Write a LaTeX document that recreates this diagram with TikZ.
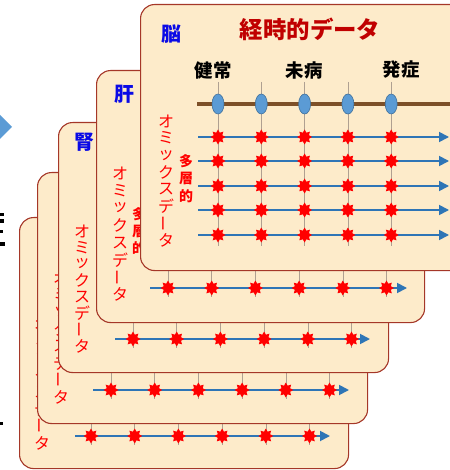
\documentclass[tikz,border=0pt]{standalone}
\usepackage{fontspec}
\newfontfamily\jp{Noto Sans CJK JP}
\usetikzlibrary{arrows.meta,shapes.geometric}
\definecolor{cardfill}{RGB}{253,235,202}
\definecolor{cardedge}{RGB}{165,55,40}
\definecolor{arrowblue}{RGB}{46,117,182}
\definecolor{dotblue}{RGB}{91,155,213}
\definecolor{dotedge}{RGB}{65,113,156}
\definecolor{brownline}{RGB}{125,80,40}
\definecolor{titlered}{RGB}{192,0,0}
\definecolor{organblue}{RGB}{10,10,230}
\definecolor{tickgray}{RGB}{175,160,145}
\tikzset{
 card/.style={draw=cardedge, line width=1.1bp, fill=cardfill, rounded corners=14bp},
 burst/.style={star, star points=8, star point ratio=1.6, fill=red, draw=none, minimum size=15bp, inner sep=0pt},
 timeline/.style={draw=arrowblue, line width=1.8bp, -{Triangle[length=10bp,width=10bp]}},
 tickline/.style={draw=tickgray, line width=0.6bp},
 organ/.style={text=organblue, font=\jp\bfseries\fontsize{20}{20}\selectfont, inner sep=0pt},
 omics/.style={text=red, font=\jp\fontsize{16}{16}\selectfont, inner sep=0pt},
 layered/.style={text=red, font=\jp\bfseries\fontsize{14}{14}\selectfont, inner sep=0pt},
 stage/.style={font=\jp\bfseries\fontsize{18.5}{18.5}\selectfont, inner sep=0pt},
 titletext/.style={text=titlered, font=\jp\bfseries\fontsize{23.5}{23.5}\selectfont, inner sep=0pt},
 timedot/.style={ellipse, fill=dotblue, draw=dotedge, line width=0.6bp, minimum width=12bp, minimum height=20bp, inner sep=0pt},
 fragment/.style={fill=black, draw=none}
}
% vertical "omics data" column: name, x, y of first char, pitch
\newcommand\omicscol[4]{%
  \foreach \c [count=\i from 0] in {オ,ミ,ッ,ク,ス,デ,{\rotatebox[origin=c]{90}{ー}},タ}
    \node[omics] (#1-\i) at (#2,#3+\i*#4) {\c};
}
% vertical "multi-layered" column: name, x, y first, pitch
\newcommand\layercol[4]{%
  \foreach \c [count=\i from 0] in {多,層,的}
    \node[layered] (#1-\i) at (#2,#3+\i*#4) {\c};
}
% row: name, y, xstart, xend, first star x, star count, tick top
\newcommand\datarow[7]{%
  \coordinate (#1-a) at (#3,#2);
  \coordinate (#1-b) at (#4,#2);
  \foreach \k in {1,...,#6}
    \draw[tickline] (#5+\k*43.7-43.7,#7) -- (#5+\k*43.7-43.7,#2+9);
  \draw[timeline] (#1-a) -- (#1-b);
  \foreach \k in {1,...,#6}
    \node[burst] (#1-s\k) at (#5+\k*43.7-43.7,#2) {};
}
\begin{document}
\begin{tikzpicture}[x=1bp,y=-1bp]
\useasboundingbox (0,0) rectangle (450,470);
\clip (0,0) rectangle (450,470);

% left blue arrow head and cut-off fragments
\coordinate (la1) at (-2,113);
\coordinate (la2) at (12,127);
\coordinate (la3) at (-2,141);
\fill[dotblue] (la1) -- (la2) -- (la3) -- cycle;
\fill[fragment] (0,213) rectangle (4,216);
\fill[fragment] (0,219.5) rectangle (4,222.5);
\fill[fragment] (0,230) rectangle (2.5,233);
\fill[fragment] (0,242) rectangle (5,245.5);
\fill[fragment] (0,422) rectangle (2.5,425);

% card 5
\node[card, minimum width=329bp, minimum height=251bp, anchor=north west] (card5) at (19,217) {};
\omicscol{om5}{42}{324}{17}
\datarow{r5}{436}{75}{330}{91}{6}{400}

% card 4
\node[card, minimum width=330bp, minimum height=251bp, anchor=north west] (card4) at (37,172) {};
\omicscol{om4}{61}{278}{17}
\datarow{r4}{390}{93}{349}{111}{6}{355}

% card 3
\node[card, minimum width=330bp, minimum height=250bp, anchor=north west] (card3) at (58,122) {};
\node[organ] (kidney) at (84,142) {腎};
\omicscol{om3}{82}{231}{16.5}
\datarow{r3}{339}{115}{370}{133}{6}{300}

% card 2
\node[card, minimum width=328bp, minimum height=252bp, anchor=north west] (card2) at (96,70) {};
\node[organ] (liver) at (124,94) {肝};
\omicscol{om2}{120}{173}{17.4}
\layercol{ly2}{139}{214}{17}
\datarow{r2}{288}{150}{407}{168}{6}{250}

% card 1 (front)
\node[card, minimum width=340bp, minimum height=266bp, anchor=north west] (card1) at (140,4) {};
\node[organ] (brain) at (171,34) {脳};
\node[titletext] (title) at (310,29) {経時的データ};
\node[stage] (healthy) at (213,70) {健常};
\node[stage] (premorbid) at (304,70) {未病};
\node[stage] (onset) at (401,70) {発症};
\omicscol{om1}{166}{121}{17.1}
\layercol{ly1}{186}{161}{17.5}
\foreach \k in {0,...,4}
  \draw[tickline] (218+\k*43.3,82) -- (218+\k*43.3,246);
\coordinate (bl-a) at (197,104);
\coordinate (bl-b) at (455,104);
\draw[draw=brownline, line width=4bp] (bl-a) -- (bl-b);
\foreach \k in {0,...,4}
  \node[timedot] (dot\k) at (218+\k*43.3,104) {};
\foreach \y [count=\r] in {137,161,186,210,235}{
  \coordinate (f\r-a) at (198,\y);
  \coordinate (f\r-b) at (449,\y);
  \draw[timeline] (f\r-a) -- (f\r-b);
  \foreach \k in {0,...,4}
    \node[burst] (f\r-s\k) at (218+\k*43.3,\y) {};
}
\end{tikzpicture}
\end{document}
